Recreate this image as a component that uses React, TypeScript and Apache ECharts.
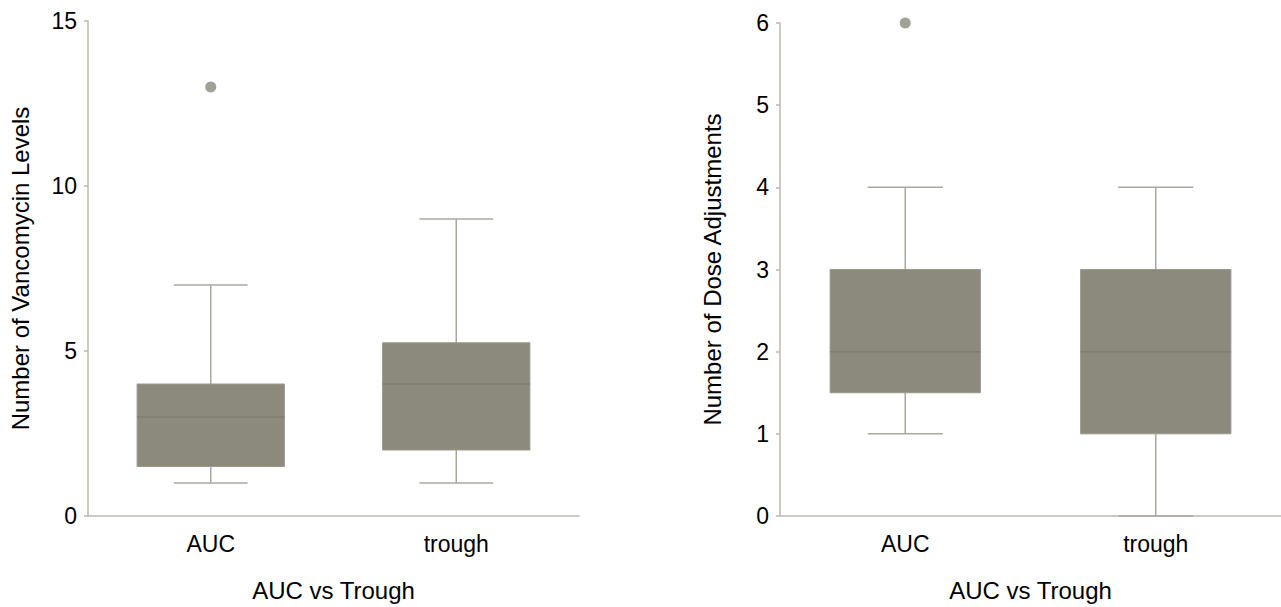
import React, { useEffect, useRef } from "react";
import * as echarts from "echarts";

const categories = ["AUC", "trough"];
// [min, Q1, median, Q3, max]
const levelsBoxes = [
  [1, 1.5, 3, 4, 7],
  [1, 2, 4, 5.25, 9],
];
const levelsOutliers = [[0, 13]]; // [category index, value]
const doseBoxes = [
  [1, 1.5, 2, 3, 4],
  [0, 1, 2, 3, 4],
];
const doseOutliers = [[0, 6]];

const xTitle = "AUC vs Trough";
const leftYTitle = "Number of Vancomycin Levels";
const rightYTitle = "Number of Dose Adjustments";

const FONT = "'Liberation Sans', Arial, Helvetica, sans-serif";
const FS = 23;
const NAME_FS = 24;
const AXIS_COLOR = "#bcb9af";
const BOX_FILL = "#8b8a7d";
const BOX_EDGE = "#9a998d";
const MEDIAN = "#7e7d71";
const WHISKER = "#aaa89e";

function renderBox(params: any, api: any) {
  const c = api.value(0);
  const pMin = api.coord([c, api.value(1)]);
  const pQ1 = api.coord([c, api.value(2)]);
  const pMed = api.coord([c, api.value(3)]);
  const pQ3 = api.coord([c, api.value(4)]);
  const pMax = api.coord([c, api.value(5)]);
  const bw = api.size([1, 0])[0] * 0.6;
  const cx = pMed[0];
  const half = bw / 2;
  const capHalf = bw / 4;
  const wStyle = { stroke: WHISKER, lineWidth: 1.5 };
  return {
    type: "group",
    children: [
      { type: "line", shape: { x1: cx, y1: pQ3[1], x2: cx, y2: pMax[1] }, style: wStyle },
      { type: "line", shape: { x1: cx, y1: pQ1[1], x2: cx, y2: pMin[1] }, style: wStyle },
      { type: "line", shape: { x1: cx - capHalf, y1: pMax[1], x2: cx + capHalf, y2: pMax[1] }, style: wStyle },
      { type: "line", shape: { x1: cx - capHalf, y1: pMin[1], x2: cx + capHalf, y2: pMin[1] }, style: wStyle },
      {
        type: "rect",
        shape: { x: cx - half, y: pQ3[1], width: bw, height: pQ1[1] - pQ3[1] },
        style: { fill: BOX_FILL, stroke: BOX_EDGE, lineWidth: 1 },
      },
      { type: "line", shape: { x1: cx - half, y1: pMed[1], x2: cx + half, y2: pMed[1] }, style: { stroke: MEDIAN, lineWidth: 1.5 } },
    ],
  };
}

function xAxisOpt(gridIndex: number) {
  return {
    type: "category",
    gridIndex,
    data: categories,
    boundaryGap: true,
    name: xTitle,
    nameLocation: "middle",
    nameGap: 62,
    nameTextStyle: { fontSize: NAME_FS, color: "#000", fontFamily: FONT },
    axisLine: { lineStyle: { color: AXIS_COLOR, width: 1.5 } },
    axisTick: { alignWithLabel: true, length: 5, lineStyle: { color: AXIS_COLOR, width: 1.5 } },
    axisLabel: { fontSize: FS, color: "#000", fontFamily: FONT, margin: 16 },
    splitLine: { show: false },
  };
}

function yAxisOpt(gridIndex: number, max: number, interval: number, name: string) {
  return {
    type: "value",
    gridIndex,
    min: 0,
    max,
    interval,
    name,
    nameLocation: "middle",
    nameGap: 56,
    nameTextStyle: { fontSize: NAME_FS, color: "#000", fontFamily: FONT },
    axisLine: { show: true, lineStyle: { color: AXIS_COLOR, width: 1.5 } },
    axisTick: { show: true, length: 4, lineStyle: { color: AXIS_COLOR, width: 1.5 } },
    axisLabel: { fontSize: FS, color: "#000", fontFamily: FONT, margin: 11 },
    splitLine: { show: false },
  };
}

function toData(boxes: number[][]) {
  return boxes.map((b, i) => [i, ...b]);
}

export default function App() {
  const ref = useRef<HTMLDivElement>(null);
  useEffect(() => {
    if (!ref.current) return;
    const chart = echarts.init(ref.current, undefined, { renderer: "svg" });
    chart.setOption({
      animation: false,
      backgroundColor: "#fff",
      grid: [
        { left: 88, top: 21, width: 491, bottom: 90 },
        { left: 780, top: 23, width: 501, bottom: 90 },
      ],
      xAxis: [xAxisOpt(0), xAxisOpt(1)],
      yAxis: [yAxisOpt(0, 15, 5, leftYTitle), yAxisOpt(1, 6, 1, rightYTitle)],
      series: [
        {
          type: "custom",
          xAxisIndex: 0,
          yAxisIndex: 0,
          renderItem: renderBox,
          encode: { x: 0, y: [1, 2, 3, 4, 5] },
          data: toData(levelsBoxes),
        },
        {
          type: "scatter",
          xAxisIndex: 0,
          yAxisIndex: 0,
          symbolSize: 11,
          itemStyle: { color: BOX_FILL },
          data: levelsOutliers,
        },
        {
          type: "custom",
          xAxisIndex: 1,
          yAxisIndex: 1,
          renderItem: renderBox,
          encode: { x: 0, y: [1, 2, 3, 4, 5] },
          data: toData(doseBoxes),
        },
        {
          type: "scatter",
          xAxisIndex: 1,
          yAxisIndex: 1,
          symbolSize: 11,
          itemStyle: { color: BOX_FILL },
          data: doseOutliers,
        },
      ],
    });
    return () => chart.dispose();
  }, []);
  return (
    <div
      ref={ref}
      style={{ position: "fixed", left: 0, top: 0, width: 1281, height: 607 }}
    />
  );
}
